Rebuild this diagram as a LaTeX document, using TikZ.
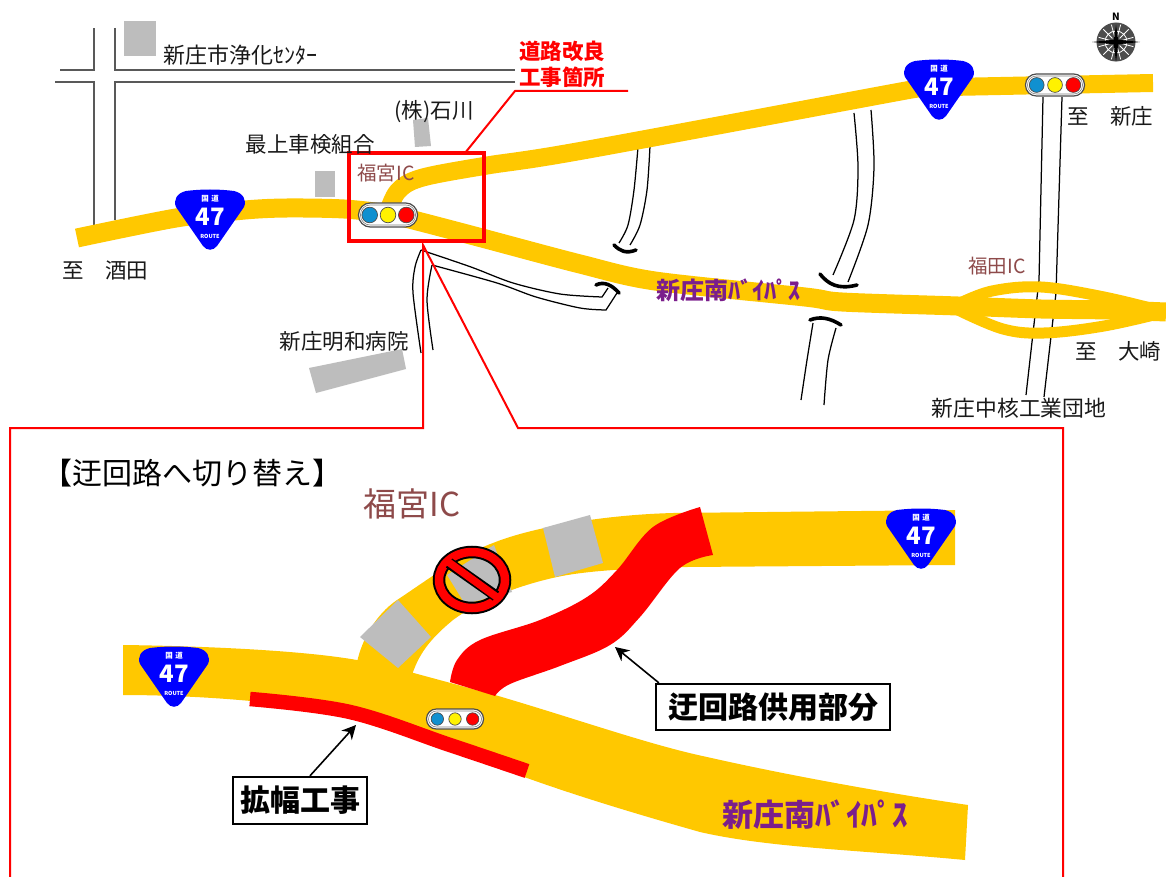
\documentclass[tikz,border=0pt]{standalone}
\usepackage{fontspec}
\newfontfamily\jp{Noto Sans CJK JP}
\usetikzlibrary{arrows.meta,calc}
\definecolor{roady}{HTML}{FFC800}
\definecolor{blockg}{HTML}{BDBDBD}
\definecolor{icbrown}{HTML}{8E4A4A}
\definecolor{bypass}{HTML}{7B1E8C}
\definecolor{sigblue}{HTML}{1090D0}
\tikzset{
  road/.style={line width=#1,draw=roady,line cap=butt,line join=round},
  rline/.style={draw=black,line width=1.25pt},
  capline/.style={draw=black,line width=3.6pt,line cap=round},
  gridline/.style={draw=black!65,line width=1.8pt},
  redline/.style={draw=red,line width=2pt},
  lbl/.style={font=\jp\fontsize{#1}{#1}\selectfont,inner sep=0pt,text=black!90},
  blockf/.style={fill=blockg},
  boxlbl/.style={draw=black,line width=2.4pt,fill=white,font=\jp\bfseries\fontsize{30}{30}\selectfont,inner sep=4pt,text=black},
  leader/.style={draw=black,line width=1.6pt,-{Stealth[length=14pt,width=14pt]}},
}
\newcommand{\shieldat}[3]{%
  \begin{scope}[shift={(#1,#2)}]
  \fill[blue] (-24,-29) .. controls (-8,-31) and (8,-31) .. (24,-29) .. controls (33,-27) and (37,-20) .. (34,-13) -- (7,26) .. controls (3,31) and (-3,31) .. (-7,26) -- (-34,-13) .. controls (-37,-20) and (-33,-27) .. (-24,-29) -- cycle;
  \node[text=white,font=\jp\bfseries\fontsize{7.5}{8}\selectfont,inner sep=0pt] (#3a) at (0,-21) {国\,\,道};
  \node[text=white,font=\jp\bfseries\fontsize{24}{24}\selectfont,inner sep=0pt] (#3b) at (0,-3) {47};
  \node[text=white,font=\jp\bfseries\fontsize{5.5}{6}\selectfont,inner sep=0pt] (#3c) at (0,16) {ROUTE};
  \end{scope}}
\newcommand{\signalat}[5]{%
  \begin{scope}[shift={(#1,#2)}]
  \draw[black!70,fill=white,line width=1.2pt,rounded corners=#4*0.49pt] (-#3*0.5,-#4*0.5) rectangle (#3*0.5,#4*0.5);
  \draw[black!50,line width=.6pt,rounded corners=#4*0.4pt] (-#3*0.5+2,-#4*0.5+2) rectangle (#3*0.5-2,#4*0.5-2);
  \filldraw[fill=sigblue,draw=black!70,line width=.7pt] (-#3*0.31,0) circle (#5);
  \filldraw[fill=yellow,draw=black!70,line width=.7pt] (0,0) circle (#5);
  \filldraw[fill=red,draw=black!70,line width=.7pt] (#3*0.31,0) circle (#5);
  \end{scope}}
\begin{document}
\begin{tikzpicture}[x=1pt,y=-1pt]
\useasboundingbox (0,0) rectangle (1166,877);
\fill[white] (0,0) rectangle (1166,877);

% street grid top-left
\draw[gridline] (60,70) -- (94,70) -- (94,28);
\draw[gridline] (115,28) -- (115,70) -- (515,70);
\draw[gridline] (55,82) -- (94,82) -- (94,225);
\draw[gridline] (515,82) -- (115,82) -- (115,220);

% blocks
\fill[blockf] (124,21) rectangle (156,56);
\fill[blockf] (315,171) rectangle (335,197);
\fill[blockf] (413,120) -- (428,118) -- (431,146) -- (415,147) -- cycle;
\fill[blockf] (309,368) -- (402,349) -- (406,369) -- (316,393) -- cycle;

% side roads
\draw[rline] plot[smooth] coordinates {(638,147) (634,190) (628,225) (619,243)};
\draw[rline] plot[smooth] coordinates {(650,146) (647,190) (640,225) (630,245)};
\draw[capline] (614,245) .. controls (620,251) and (626,254) .. (636,250);
\draw[rline] plot[smooth] coordinates {(854,113) (858,167) (854,220) (833,275)};
\draw[rline] plot[smooth] coordinates {(871,110) (874,167) (868,225) (848,282)};
\draw[capline] (820,274) .. controls (828,284) and (838,290) .. (857,285);
\draw[capline] (810,320) .. controls (820,316) and (830,318) .. (841,325);
\draw[rline] plot[smooth] coordinates {(813,323) (807,360) (801,400)};
\draw[rline] plot[smooth] coordinates {(836,328) (828,360) (824,405)};
\draw[rline] (1043,97) -- (1039,280) -- (1026,395);
\draw[rline] (1062,97) -- (1056,293) -- (1044,397);
% road from the red box
\draw[rline] plot[smooth] coordinates {(421,250) (471,267) (513,283) (560,294) (602,297)} -- (608,288);
\draw[rline] plot[smooth] coordinates {(432,265) (497,283) (536,297) (580,308) (606,310)} -- (617,293);
\draw[capline] (596,285) .. controls (604,281) and (612,285) .. (619,293);
\draw[rline] plot[smooth] coordinates {(421,250) (415,267) (413,293) (421,353)};
\draw[rline] plot[smooth] coordinates {(432,265) (427,300) (433,350)};

% map roads
\draw[road=19pt] plot[smooth,tension=.5] coordinates {(77,238) (176,218) (245,210) (287,208) (344,209) (388,214) (421,222) (482,238) (580,264) (655,281) (805,297) (842,302) (958,306) (1041,309) (1110,310) (1166,312)};
\draw[road=18pt] plot[smooth,tension=.55] coordinates {(388,212) (398,191) (421,178) (484,166) (580,151) (887,94) (915,89)};
\draw[road=18pt] (950,87) -- (1153,83);
\draw[road=11pt] plot[smooth,tension=.6] coordinates {(958,304) (992,291) (1041,287) (1104,297) (1166,312)};
\draw[road=11pt] plot[smooth,tension=.6] coordinates {(958,310) (1003,329) (1044,333) (1104,326) (1166,312)};

% map shields and signals
\shieldat{210}{220}{sa}
\shieldat{939}{90}{sb}
\signalat{388}{215}{59}{24}{7.8}
\signalat{1055}{85}{59}{22}{7.4}

% red box and leaders
\draw[draw=red,line width=3.2pt] (349,153) rectangle (484,241);
\draw[redline] (465,153) -- (515,91) -- (628,91);
\draw[redline] (10,877) -- (10,428) -- (423,428) -- (423,245) -- (518,428) -- (1063,428) -- (1063,877);

% map labels
\node[lbl=22,anchor=west] (n1) at (163,55) {新庄市浄化ｾﾝﾀｰ};
\node[font=\jp\bfseries\fontsize{21.5}{21.5}\selectfont,text=red,inner sep=0pt] (n2) at (562,51) {道路改良};
\node[font=\jp\bfseries\fontsize{21.5}{21.5}\selectfont,text=red,inner sep=0pt] (n3) at (562,77) {工事箇所};
\node[lbl=21.5] (n4) at (434,112) {(株)石川};
\node[lbl=21.5] (n5) at (310,144) {最上車検組合};
\node[lbl=19.5,text=icbrown] (n6) at (386,173) {福宮IC};
\node[lbl=21.5,anchor=west] (n7) at (62,271) {至　酒田};
\node[lbl=21.5] (n8) at (344,341) {新庄明和病院};
\node[lbl=21.5,anchor=west] (n9) at (1067,116) {至　新庄};
\node[lbl=19.5,text=icbrown] (n10) at (997,266) {福田IC};
\node[lbl=21.5,anchor=west] (n11) at (1075,351) {至　大崎};
\node[lbl=21.8] (n12) at (1019,408) {新庄中核工業団地};
\node[font=\jp\bfseries\fontsize{24}{24}\selectfont,text=bypass,inner sep=0pt] (n13) at (728,290) {新庄南ﾊﾞｲﾊﾟｽ};

% compass
\fill[black!70] (1116,42) circle (19.5);
\foreach \a in {15,45,...,345} \draw[white,line width=.8pt] (1116,42) ++(\a:5) -- ++(\a:13);
\draw[white,line width=.8pt] (1116,42) circle (11);
\fill[black] (1116,25) -- (1118.5,42) -- (1116,62) -- (1113.5,42) -- cycle;
\fill[black] (1092,42) -- (1116,39.5) -- (1140,42) -- (1116,44.5) -- cycle;
\node[font=\jp\bfseries\fontsize{10}{10}\selectfont,inner sep=0pt] (nN) at (1116,17) {N};

% inset: roads
\fill[roady] (357,662) .. controls (362,640) and (375,615) .. (397,600) .. controls (420,585) and (460,555) .. (493,543) .. controls (530,528) and (600,515) .. (673,513) -- (955,510) -- (955,565) -- (687,567) .. controls (640,568) and (590,570) .. (557,577) .. controls (520,585) and (480,600) .. (453,620) .. controls (435,635) and (420,650) .. (412,675) -- cycle;
\fill[roady] (123,645) .. controls (200,646) and (300,650) .. (357,660) -- (410,672) -- (495,695) .. controls (580,720) and (650,745) .. (707,757) .. controls (800,778) and (900,795) .. (968,805) -- (965,860) .. controls (860,850) and (770,848) .. (700,832) .. controls (640,815) and (580,797) .. (527,778) -- (450,750) -- (340,715) .. controls (300,703) and (200,695) .. (123,695) -- cycle;
% inset: closed sections
\fill[blockf] (360,637) -- (398,600) -- (431,637) -- (398,668) -- cycle;
\fill[blockf] (543,528) -- (590,515) -- (603,563) -- (555,577) -- cycle;
\fill[blockf] (447,575) -- (494,545) -- (512,592) -- (465,604) -- cycle;
% inset: detour
\fill[red] plot[smooth,tension=.6] coordinates {(450,682) (457,660) (480,640) (540,620) (587,597) (617,570) (653,527) (700,507)} -- plot[smooth,tension=.6] coordinates {(713,555) (680,568) (640,617) (610,645) (560,666) (510,684) (495,696)} -- cycle;
\draw[draw=red,line width=14.5pt,line cap=butt] plot[smooth,tension=.6] coordinates {(250,699) (350,712) (450,745) (527,771)};
% no-entry sign
\draw[black,line width=12.5pt] (472,580) ellipse (33 and 28);
\draw[red,line width=8.5pt] (472,580) ellipse (33 and 28);
\draw[black,line width=11pt] (449,563) -- (496,596);
\draw[red,line width=7.5pt] (447,561) -- (498,598);

% inset: shields, signal
\shieldat{174}{677}{sc}
\shieldat{921}{539}{sd}
\signalat{455}{719}{57}{20}{6.2}

% inset labels
\node[font=\jp\fontsize{30}{30}\selectfont,inner sep=0pt,anchor=west,text=black] (i1) at (42,473) {【迂回路へ切り替え】};
\node[font=\jp\fontsize{33}{33}\selectfont,inner sep=0pt,text=icbrown] (i2) at (412,504) {福宮IC};
\node[font=\jp\bfseries\fontsize{31}{31}\selectfont,text=bypass,inner sep=0pt] (i3) at (815,815) {新庄南ﾊﾞｲﾊﾟｽ};
\node[boxlbl,minimum width=134pt,minimum height=47pt] (b1) at (300,800.5) {拡幅工事};
\node[boxlbl,minimum width=234pt,minimum height=46pt] (b2) at (773,707) {迂回路供用部分};
\coordinate (t1) at (356,725);
\coordinate (t2) at (615,647);
\draw[leader] (b1.north) ++(10,0) -- (t1);
\draw[leader] ($(b2.north west)+(4,0)$) -- (t2);
\end{tikzpicture}
\end{document}
